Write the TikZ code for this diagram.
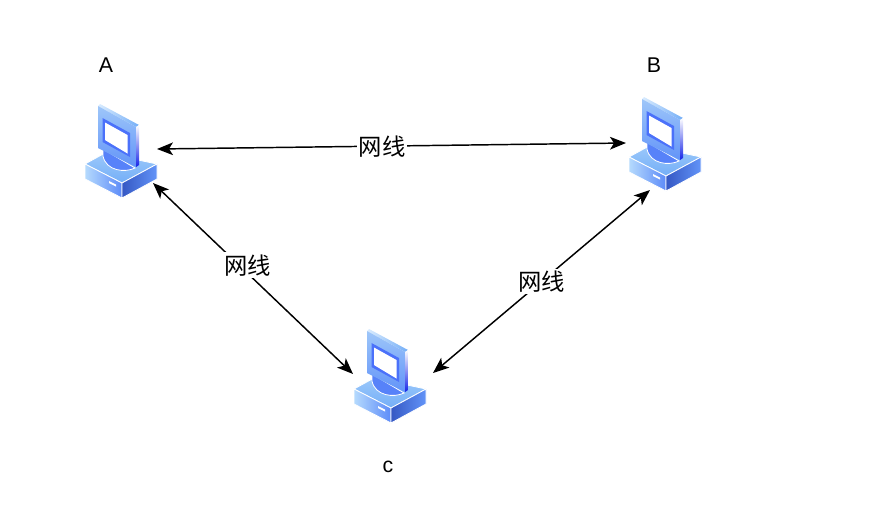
\documentclass[tikz,border=0pt]{standalone}
\usepackage{amsmath}
\usepackage{xcolor}
\usepackage{fontspec}
\setmainfont{Liberation Sans}
\newfontfamily\cjk{Noto Sans CJK SC}
\usetikzlibrary{arrows.meta}
\definecolor{pclight}{HTML}{B5DAFD}
\definecolor{pcmid}{HTML}{74AEF7}
\definecolor{pcdark}{HTML}{3558C4}
\tikzset{
  pcbox/.style={minimum width=48pt,minimum height=48pt,inner sep=0pt,outer sep=0pt},
  link/.style={{Stealth[length=12pt,width=9.5pt,inset=3pt]}-{Stealth[length=12pt,width=9.5pt,inset=3pt]},line width=1.1pt,black},
  wire/.style={fill=white,inner sep=1.5pt,font=\cjk\fontsize{17.5}{19}\selectfont},
  pclabel/.style={font=\fontsize{16}{18}\selectfont},
  pcedge/.style={draw=white,line width=0.6pt,line join=round},
  computer/.pic={
    % base of the case
    \path[pcedge,top color=pclight!60!pcmid,bottom color=pcmid] (-36,13)--(-16,2)--(36,13)--(1,32)--cycle;
    \path[pcedge,left color=pclight,right color=pcmid!80!blue] (-36,13)--(1,32)--(1,47)--(-36,28)--cycle;
    \path[pcedge,left color=pcdark,right color=pcmid!85!blue] (1,32)--(36,13)--(36,28)--(1,47)--cycle;
    % disk below the screen
    \path[fill=pcmid!75!blue,draw=white,line width=0.6pt] (-18,5) .. controls (-15,20) and (4,22) .. (14,17)--(-18,-2)--cycle;
    % indicator dots
    \fill[white] (-12,30) -- (-5,33.5) -- (-5,35.5) -- (-12,32) -- cycle;
    % monitor
    \path[left color=pclight!50!white,right color=pcmid] (-21,-47) -- (18,-26) -- (15,-24) -- (-23,-45) -- cycle;
    \path[top color=pcmid!70!white,bottom color=pcmid!85!blue] (-23,-45) -- (15,-24) -- (15,16) -- (-23,-3) -- cycle;
    \path[top color=white,bottom color=blue!60!pcdark] (15,-24) -- (18,-26) -- (18,14) -- (15,16) -- cycle;
    \fill[blue!35!pcmid] (-18.5,-33) -- (9,-18) -- (9,6) -- (-18.5,-9) -- cycle;
    \fill[white] (-16,-28.5) -- (6.5,-16) -- (6.5,2.5) -- (-16,-11) -- cycle;
  }
}
\begin{document}
\begin{tikzpicture}[x=0.75pt,y=-0.75pt]
  \useasboundingbox (0,0) rectangle (878,522);
  % the three computers
  \node[pcbox] (pcA) at (121,151) {};
  \node[pcbox] (pcB) at (665,144) {};
  \node[pcbox] (pcC) at (390,376) {};
  \pic at (pcA.center) {computer};
  \pic at (pcB.center) {computer};
  \pic at (pcC.center) {computer};
  \node[pclabel] (nameA) at (106,65) {A};
  \node[pclabel] (nameB) at (654,65) {B};
  \node[pclabel] (nameC) at (388,467) {c};
  % network cables
  \draw[link] ([shift={(36,-2)}]pcA.center) -- ([shift={(-39,-1)}]pcB.center) node[wire,pos=0.48] (wireAB) {网线};
  \draw[link] (pcA.-45) -- ([shift={(-37,-2)}]pcC.center) node[wire,pos=0.43,xshift=6.5pt] (wireAC) {网线};
  \draw[link] ([shift={(-15,46)}]pcB.center) -- ([shift={(43,-3)}]pcC.center) node[wire,pos=0.5] (wireBC) {网线};
\end{tikzpicture}
\end{document}
